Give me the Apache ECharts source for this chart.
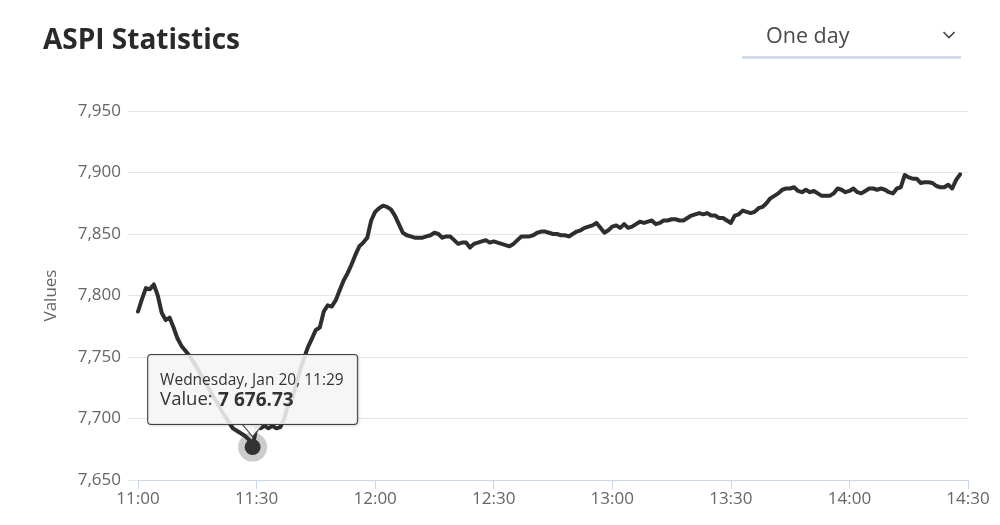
<!DOCTYPE html>
<html>
<head>
<meta charset="utf-8">
<script src="https://cdn.jsdelivr.net/npm/echarts@6/dist/echarts.min.js"></script>
<style>
  html, body { margin: 0; padding: 0; background: #ffffff; }
  #chart { width: 1000px; height: 525px; }
</style>
</head>
<body>
<div id="chart"></div>
<script>
// ---- data (one value per minute starting at 11:00) ----
const startHour = 11;
const startMinute = 0;
const values = [
  7787, 7797, 7806, 7805, 7809, 7800, 7786, 7780, 7782, 7774,
  7765, 7759, 7755, 7751, 7746, 7741, 7735, 7729, 7724, 7718,
  7713, 7707, 7702, 7697, 7692, 7690, 7688, 7686, 7683, 7676.73,
  7694, 7692, 7694, 7692, 7694, 7692, 7693, 7700, 7711, 7717,
  7727, 7739, 7749, 7758, 7765, 7772, 7774, 7787, 7792, 7791,
  7796, 7804, 7812, 7818, 7825, 7833, 7840, 7843, 7847, 7861,
  7868, 7871, 7873, 7872, 7870, 7865, 7858, 7851, 7849, 7848,
  7847, 7847, 7847, 7848, 7849, 7851, 7850, 7847, 7848, 7848,
  7845, 7842, 7843, 7843, 7839, 7842, 7843, 7844, 7845, 7843,
  7844, 7843, 7842, 7841, 7840, 7842, 7845, 7848, 7848, 7848,
  7849, 7851, 7852, 7852, 7851, 7850, 7850, 7849, 7849, 7848,
  7850, 7852, 7853, 7855, 7856, 7857, 7859, 7855, 7851, 7853,
  7856, 7857, 7855, 7858, 7855, 7856, 7858, 7860, 7859, 7860,
  7861, 7858, 7859, 7861, 7861, 7862, 7862, 7861, 7861, 7863,
  7865, 7866, 7867, 7866, 7867, 7865, 7865, 7863, 7863, 7861,
  7859, 7865, 7866, 7869, 7868, 7867, 7868, 7871, 7872, 7875,
  7879, 7881, 7883, 7886, 7887, 7887, 7888, 7885, 7884, 7886,
  7884, 7885, 7883, 7881, 7881, 7881, 7883, 7887, 7886, 7884,
  7885, 7887, 7884, 7883, 7885, 7887, 7887, 7886, 7887, 7886,
  7884, 7883, 7887, 7888, 7898, 7896, 7895, 7895, 7891.5, 7892,
  7892, 7891.5, 7889, 7888, 7888, 7890, 7887, 7894, 7898.5
];
const xTickLabels = ['11:00', '11:30', '12:00', '12:30', '13:00', '13:30', '14:00', '14:30'];
const yTicks = [7650, 7700, 7750, 7800, 7850, 7900, 7950];
const highlightIndex = 29;
const highlightDate = 'Wednesday, Jan 20';
const titleText = 'ASPI Statistics';
const rangeText = 'One day';
const yAxisName = 'Values';

// ---- helpers ----
function pad(n) { return (n < 10 ? '0' : '') + n; }
function timeOf(i) {
  const m = startHour * 60 + startMinute + i;
  return pad(Math.floor(m / 60)) + ':' + pad(m % 60);
}
function fmtComma(v) { return String(v).replace(/\B(?=(\d{3})+(?!\d))/g, ','); }
function fmtSpace(v) {
  const parts = v.toFixed(2).split('.');
  return parts[0].replace(/\B(?=(\d{3})+(?!\d))/g, ' ') + '.' + parts[1];
}

const seriesData = values.map((v, i) => [i, v]);
const hx = highlightIndex, hy = values[highlightIndex];
const FONT = '"Open Sans", "Noto Sans", sans-serif';

const chart = echarts.init(document.getElementById('chart'), null, { renderer: 'canvas' });
chart.setOption({
  animation: false,
  backgroundColor: '#ffffff',
  grid: { left: 138, right: 32, top: 111, bottom: 45, containLabel: false },
  xAxis: {
    type: 'value',
    min: 0,
    max: (xTickLabels.length - 1) * 30,
    interval: 30,
    axisLine: { show: true, lineStyle: { color: '#ccd6eb', width: 1 } },
    axisTick: { show: true, length: 9, lineStyle: { color: '#ccd6eb' } },
    splitLine: { show: false },
    axisLabel: {
      margin: 11,
      color: '#666666',
      fontSize: 17,
      fontFamily: FONT,
      formatter: v => xTickLabels[Math.round(v / 30)] || ''
    }
  },
  yAxis: {
    type: 'value',
    min: yTicks[0],
    max: yTicks[yTicks.length - 1],
    interval: 50,
    name: yAxisName,
    nameLocation: 'middle',
    nameGap: 78,
    nameTextStyle: { color: '#666666', fontSize: 17, fontFamily: FONT },
    axisLine: { show: false },
    axisTick: { show: true, length: 10, lineStyle: { color: '#e6e6e6' } },
    splitLine: { show: true, lineStyle: { color: '#e6e6e6', width: 1 } },
    axisLabel: {
      margin: 17,
      color: '#666666',
      fontSize: 17,
      fontFamily: FONT,
      formatter: v => fmtComma(v)
    }
  },
  graphic: [
    {
      type: 'text', left: 43, top: 27, z: 10,
      style: { text: titleText, fill: '#2a2a2a', fontSize: 28, fontWeight: 'bold', fontFamily: FONT }
    },
    {
      type: 'text', left: 766, top: 21, z: 10,
      style: { text: rangeText, fill: '#4a4a4a', fontSize: 21.5, fontFamily: FONT, lineHeight: 32 }
    },
    {
      type: 'polyline', z: 10,
      shape: { points: [[943.5, 32], [949, 37.5], [954.5, 32]] },
      style: { stroke: '#444444', lineWidth: 1.6, fill: null }
    },
    {
      type: 'rect', z: 10,
      shape: { x: 742, y: 56, width: 219, height: 3 },
      style: { fill: '#d3dbee' }
    }
  ],
  series: [{
    type: 'line',
    data: seriesData,
    showSymbol: false,
    symbol: 'none',
    smooth: false,
    lineStyle: { color: '#2e2e2e', width: 4, join: 'round', cap: 'round' },
    emphasis: { disabled: true },
    markPoint: {
      silent: true,
      animation: false,
      data: [
        {
          coord: [hx, hy], symbol: 'circle', symbolSize: 29,
          itemStyle: { color: 'rgba(51,51,51,0.25)' },
          label: { show: false }
        },
        {
          coord: [hx, hy], symbol: 'circle', symbolSize: 16,
          itemStyle: { color: '#333333' },
          label: {
            show: true,
            position: 'top',
            distance: 15,
            backgroundColor: 'rgba(249,249,249,0.86)',
            borderColor: '#444444',
            borderWidth: 1,
            borderRadius: 3,
            padding: [15, 13, 14, 12],
            shadowBlur: 3,
            shadowColor: 'rgba(0,0,0,0.12)',
            shadowOffsetX: 1,
            shadowOffsetY: 1,
            formatter: '{a|' + highlightDate + ', ' + timeOf(hx) + '}\n{b|Value: }{c|' + fmtSpace(hy) + '}',
            rich: {
              a: { fontSize: 15.5, color: '#333333', fontFamily: FONT, lineHeight: 20, width: 184, align: 'left' },
              b: { fontSize: 18.5, color: '#333333', fontFamily: FONT, lineHeight: 20, width: 58, align: 'left' },
              c: { fontSize: 19, color: '#333333', fontFamily: FONT, fontWeight: 'bold', lineHeight: 20, width: 126, align: 'left' }
            }
          }
        },
        {
          coord: [hx, hy], symbol: 'triangle', symbolRotate: 180,
          symbolSize: [22, 13], symbolOffset: [0, -17],
          itemStyle: { color: 'rgba(249,249,249,0.95)', borderColor: '#444444', borderWidth: 1 },
          label: { show: false }
        }
      ]
    }
  }]
});
</script>
</body>
</html>
